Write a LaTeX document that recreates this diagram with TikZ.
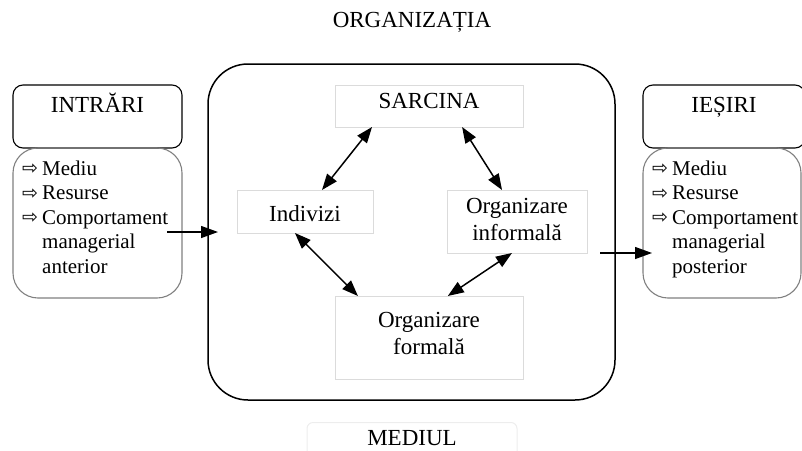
\documentclass[tikz,border=0pt]{standalone}
\usepackage{fontspec}
\setmainfont{Liberation Serif}
\newfontfamily\symfont{DejaVu Sans}
\usetikzlibrary{arrows.meta,calc}
\newcommand\arr{\makebox[20pt][l]{\raisebox{0.5pt}{\symfont\fontsize{19}{24}\selectfont ⇨}}}
\begin{document}
\begin{tikzpicture}[x=1pt,y=-1pt,
  txt/.style={font=\fontsize{23}{27}\selectfont, inner sep=0pt, anchor=base},
  lst/.style={font=\fontsize{21}{24}\selectfont, inner sep=0pt, anchor=base west},
  ibox/.style={draw=black!14, line width=1pt, inner sep=0pt, outer sep=0pt},
  tbox/.style={draw=black, line width=1.1pt, rounded corners=10pt, inner sep=0pt, outer sep=0pt},
  lbox/.style={draw=black!50, line width=1.1pt, rounded corners=25pt, inner sep=0pt, outer sep=0pt},
  dbl/.style={line width=1.5pt, {Triangle[length=16pt,width=12pt]}-{Triangle[length=16pt,width=12pt]}},
  sgl/.style={line width=1.3pt, -{Triangle[length=17pt,width=12pt]}}
]
\useasboundingbox (0,0) rectangle (802,450);

% title
\node[txt] (title) at (412,27) {ORGANIZAȚIA};

% big box
\node[draw=black, line width=1.5pt, rounded corners=40pt, minimum width=407pt, minimum height=336pt, inner sep=0pt, outer sep=0pt] (org) at (411.5,232) {};

% inner boxes
\node[ibox, minimum width=188pt, minimum height=42pt] (sar) at (429,106) {};
\node[txt] (sart) at (429,108) {SARCINA};
\node[ibox, minimum width=136pt, minimum height=43pt] (ind) at (305,211.5) {};
\node[txt] (indt) at (305,221) {Indivizi};
\node[ibox, minimum width=140pt, minimum height=63pt] (inf) at (517,221.5) {};
\node[txt] (inft1) at (517,213) {Organizare};
\node[txt] (inft2) at (517,240) {informală};
\node[ibox, minimum width=188pt, minimum height=83pt] (for) at (429,337.5) {};
\node[txt] (fort1) at (429,327) {Organizare};
\node[txt] (fort2) at (429,354) {formală};

% double arrows
\draw[dbl] ($(sar.south west)!0.197!(sar.south east)$) -- ($(ind.north west)!0.625!(ind.north east)$);
\draw[dbl] ($(sar.south west)!0.676!(sar.south east)$) -- ($(inf.north west)!0.393!(inf.north east)$);
\draw[dbl] ($(ind.south west)!0.426!(ind.south east)$) -- ($(for.north west)!0.122!(for.north east)$);
\draw[dbl] ($(inf.south west)!0.464!(inf.south east)$) -- ($(for.north west)!0.60!(for.north east)$);

% inputs
\node[tbox, minimum width=169pt, minimum height=63pt] (intr) at (97.5,116.5) {};
\node[txt] (intrt) at (97.5,112) {INTRĂRI};
\node[lbox, minimum width=169pt, minimum height=150pt] (inl) at (97.5,223) {};
\node[lst] (i1) at (22,175) {\arr Mediu};
\node[lst] (i2) at (22,199.5) {\arr Resurse};
\node[lst] (i3) at (22,224) {\arr Comportament};
\node[lst] (i4) at (42,248.5) {managerial};
\node[lst] (i5) at (42,273) {anterior};

% outputs
\node[tbox, minimum width=162pt, minimum height=63pt] (ies) at (724,116.5) {};
\node[txt] (iest) at (724,112) {IEȘIRI};
\node[lbox, minimum width=158pt, minimum height=150pt] (iel) at (722,223) {};
\node[lst] (o1) at (652,175) {\arr Mediu};
\node[lst] (o2) at (652,199.5) {\arr Resurse};
\node[lst] (o3) at (652,224) {\arr Comportament};
\node[lst] (o4) at (672,248.5) {managerial};
\node[lst] (o5) at (672,273) {posterior};

% flow arrows
\coordinate (inS) at (167,232);
\coordinate (inE) at (218,232);
\coordinate (outS) at (600,253);
\coordinate (outE) at (652,253);
\draw[sgl] (inS) -- (inE);
\draw[sgl] (outS) -- (outE);

% environment
\node[draw=black!7, line width=1pt, rounded corners=6pt, minimum width=210pt, minimum height=40pt, inner sep=0pt, anchor=north] (med) at (412,422) {};
\node[txt] (medt) at (412,445) {MEDIUL};
\end{tikzpicture}
\end{document}
